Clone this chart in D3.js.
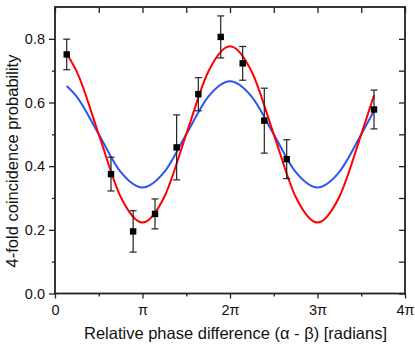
<!DOCTYPE html>
<html lang="en">
<head>
<meta charset="UTF-8">
<script src="https://cdn.jsdelivr.net/npm/d3@7"></script>
<title>4-fold coincidence</title>
<style>
	body { margin: 0; background: #fff; }
	text { font-family: "Liberation Sans", Arial, sans-serif; fill: #111; }
	.domain { display: none; }
	.tick line { stroke: #222; stroke-width: 1.3; }
</style>
</head>
<body>
<div id="chart"></div>
<script>
	// phase in units of pi
	const phase = [0.134, 0.64, 0.893, 1.143, 1.39, 1.638, 1.894, 2.145, 2.392, 2.648, 3.646];
	const prob = [0.751, 0.375, 0.195, 0.250, 0.459, 0.626, 0.806, 0.723, 0.543, 0.422, 0.578];
	const err = [0.048, 0.053, 0.065, 0.047, 0.102, 0.052, 0.066, 0.053, 0.102, 0.061, 0.061];

	// fit curves
	const fitPhase = [0.134, 0.25, 0.5, 0.75, 1, 1.25, 1.5, 1.75, 2, 2.25, 2.5, 2.75, 3, 3.25, 3.5, 3.646];
	const redFit = [0.753, 0.696, 0.5, 0.304, 0.223, 0.304, 0.5, 0.696, 0.777, 0.696, 0.5, 0.304, 0.223, 0.304, 0.5, 0.623];
	const blueFit = [0.652, 0.618, 0.5, 0.382, 0.333, 0.382, 0.5, 0.618, 0.667, 0.618, 0.5, 0.382, 0.333, 0.382, 0.5, 0.574];

	const xTicks = [0, 1, 2, 3, 4];
	const xTickLabels = ['0', 'π', '2π', '3π', '4π'];
	const yTicks = [0, 0.2, 0.4, 0.6, 0.8];

	const width = 415, height = 346;
	const margin = {left: 55, right: 10, top: 7, bottom: 52.5};
	const w = width - margin.left - margin.right,
		h = height - margin.top - margin.bottom;

	const x = d3.scaleLinear().domain([0, 4]).range([0, w]);
	const y = d3.scaleLinear().domain([0, 0.9]).range([h, 0]);

	const svg = d3.select('#chart').append('svg')
		.attr('width', width)
		.attr('height', height);

	const g = svg.append('g')
		.attr('transform', `translate(${margin.left},${margin.top})`);

	const minorX = d3.range(0.5, 4, 1);
	const minorY = d3.range(0.1, 0.9, 0.2);

	// bottom axis
	g.append('g').attr('transform', `translate(0,${h})`)
		.call(d3.axisBottom(x).tickValues(minorX).tickSize(3).tickFormat(''));
	g.append('g').attr('transform', `translate(0,${h})`)
		.call(d3.axisBottom(x).tickValues(xTicks).tickSize(5).tickPadding(6)
			.tickFormat((d, i) => xTickLabels[i]))
		.selectAll('text').style('font-size', '14.5px');

	// top axis, ticks inward
	g.append('g')
		.call(d3.axisBottom(x).tickValues(xTicks.concat(minorX)).tickSize(6).tickFormat(''));

	// left axis
	g.append('g')
		.call(d3.axisLeft(y).tickValues(minorY).tickSize(3).tickFormat(''));
	g.append('g')
		.call(d3.axisLeft(y).tickValues(yTicks).tickSize(6).tickPadding(4)
			.tickFormat(d3.format('.1f')))
		.selectAll('text').style('font-size', '14.5px');

	// right axis, ticks inward
	g.append('g').attr('transform', `translate(${w},0)`)
		.call(d3.axisLeft(y).tickValues(yTicks.concat(minorY)).tickSize(6).tickFormat(''));

	// frame
	g.append('rect')
		.attr('width', w).attr('height', h)
		.attr('fill', 'none')
		.attr('stroke', '#222')
		.attr('stroke-width', 1.8);

	const line = data => d3.line()
		.x((d, i) => x(fitPhase[i]))
		.y(d => y(d))
		.curve(d3.curveMonotoneX)(data);

	g.append('path').attr('d', line(blueFit))
		.attr('fill', 'none').attr('stroke', '#2b54f5').attr('stroke-width', 2);
	g.append('path').attr('d', line(redFit))
		.attr('fill', 'none').attr('stroke', '#ff0000').attr('stroke-width', 2);

	// error bars
	const eb = g.append('g').attr('stroke', '#222').attr('stroke-width', 1.2);
	phase.forEach((p, i) => {
		const cx = x(p), top = y(prob[i] + err[i]), bot = y(prob[i] - err[i]);
		eb.append('line').attr('x1', cx).attr('x2', cx).attr('y1', top).attr('y2', bot);
		eb.append('line').attr('x1', cx - 3.5).attr('x2', cx + 3.5).attr('y1', top).attr('y2', top);
		eb.append('line').attr('x1', cx - 3.5).attr('x2', cx + 3.5).attr('y1', bot).attr('y2', bot);
	});

	g.selectAll('rect.pt').data(phase).join('rect')
		.attr('class', 'pt')
		.attr('x', d => x(d) - 3.2)
		.attr('y', (d, i) => y(prob[i]) - 3.2)
		.attr('width', 6.4).attr('height', 6.4)
		.attr('fill', '#000');

	svg.append('text')
		.attr('x', 235.5).attr('y', 339)
		.attr('text-anchor', 'middle')
		.style('font-size', '16.5px')
		.text('Relative phase difference (α - β) [radians]');

	svg.append('text')
		.attr('transform', 'translate(18,161) rotate(-90)')
		.attr('text-anchor', 'middle')
		.style('font-size', '16.5px')
		.text('4-fold coincidence probability');
</script>
</body>
</html>
